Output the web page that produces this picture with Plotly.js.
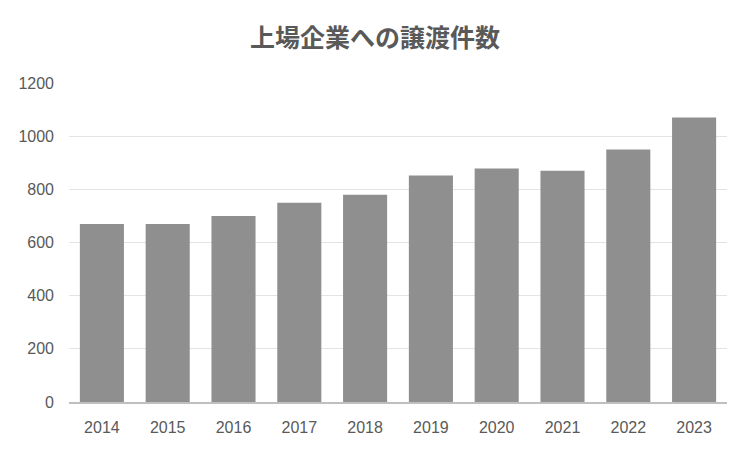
<!DOCTYPE html>
<html>
<head>
<meta charset="utf-8">
<script src="https://cdn.plot.ly/plotly-3.0.1.min.js"></script>
<style>
  body { margin: 0; }
  #myDiv { width: 750px; height: 450px; }
</style>
</head>
<body>
<div id="myDiv"></div>
<script>
var years = ['2014', '2015', '2016', '2017', '2018', '2019', '2020', '2021', '2022', '2023'];
var counts = [670, 670, 700, 750, 780, 852, 878, 870, 950, 1070];
var yTicks = [0, 200, 400, 600, 800, 1000, 1200];

var trace1 = {
    type: 'bar',
    x: years,
    y: counts,
    marker: {color: '#8f8f8f'},
    hoverinfo: 'x+y'
};

var layout = {
    width: 750,
    height: 450,
    margin: {l: 69, r: 23, t: 83, b: 48},
    paper_bgcolor: '#ffffff',
    plot_bgcolor: '#ffffff',
    bargap: 0.33,
    showlegend: false,
    title: {
        text: '上場企業への譲渡件数',
        x: 0.5,
        xanchor: 'center',
        y: 0.915,
        yanchor: 'middle',
        font: {family: '"Noto Sans CJK JP", sans-serif', size: 25, color: '#595959', weight: 'bold'}
    },
    xaxis: {
        type: 'category',
        showgrid: false,
        showline: true,
        linecolor: '#bfbfbf',
        linewidth: 1.5,
        ticks: '',
        ticklen: 0,
        ticklabelstandoff: 10,
        tickfont: {family: '"Liberation Sans Narrow", "Liberation Sans", sans-serif', size: 16, color: '#595959'}
    },
    yaxis: {
        range: [0, 1200],
        tickvals: yTicks,
        ticktext: yTicks.map(String),
        showgrid: true,
        gridcolor: '#e3e3e3',
        gridwidth: 1,
        zeroline: false,
        showline: false,
        ticks: '',
        ticklabelstandoff: 14,
        tickfont: {family: '"Liberation Sans Narrow", "Liberation Sans", sans-serif', size: 16, color: '#595959'}
    }
};

Plotly.newPlot('myDiv', [trace1], layout, {displayModeBar: false});
</script>
</body>
</html>
